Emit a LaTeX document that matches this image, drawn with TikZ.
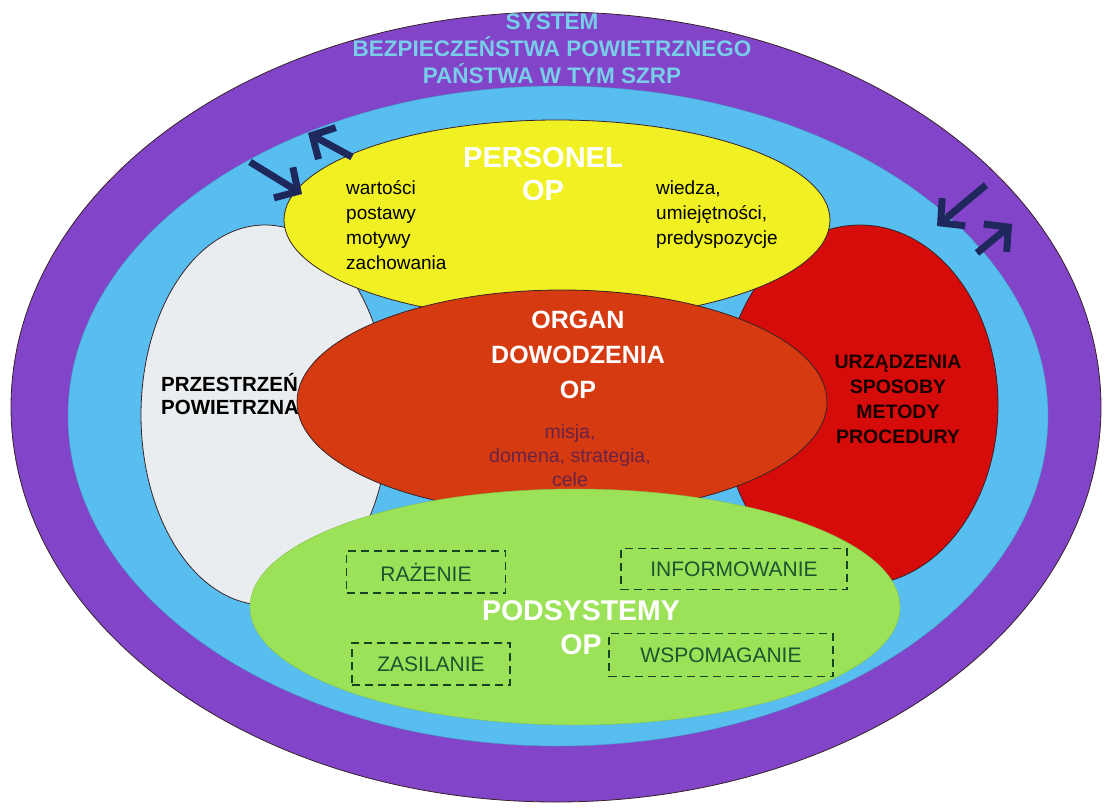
\documentclass[tikz,border=0pt]{standalone}
\usepackage{fontspec}
\setmainfont{Liberation Sans}
\usepackage{xcolor}
\usepackage{tikz}
\usetikzlibrary{arrows.meta,positioning}

\definecolor{ringviolet}{RGB}{130,68,200}
\definecolor{ringblue}{RGB}{88,190,240}
\definecolor{titlecyan}{RGB}{120,205,232}
\definecolor{persyellow}{RGB}{240,240,34}
\definecolor{spacegrey}{RGB}{234,237,239}
\definecolor{toolred}{RGB}{214,12,10}
\definecolor{organorange}{RGB}{214,58,16}
\definecolor{subgreen}{RGB}{156,226,88}
\definecolor{rimdark}{RGB}{55,35,40}
\definecolor{arrownavy}{RGB}{30,40,92}
\definecolor{misjatxt}{RGB}{105,35,70}
\definecolor{boxgreen}{RGB}{28,84,48}

\begin{document}
\begin{tikzpicture}[
  x=1pt, y=-1pt,
  rim/.style={draw=rimdark, line width=0.8pt},
  headtxt/.style={text=white, align=center, font=\bfseries\fontsize{28.5}{34}\selectfont},
  note/.style={align=left, inner sep=0pt, font=\fontsize{19}{25}\selectfont},
  boldtxt/.style={align=center, inner sep=0pt, font=\bfseries\fontsize{19.5}{25}\selectfont},
  subbox/.style={draw=boxgreen!80!black, dash pattern=on 8pt off 5pt, line width=1.2pt,
    text=boxgreen, font=\fontsize{21}{22}\selectfont, inner sep=0pt},
  flow/.style={-{Straight Barb[length=17pt,width=36pt]}, line width=7pt, arrownavy}
]
\useasboundingbox (0,0) rectangle (1109,808);

% rings
\filldraw[fill=ringviolet, rim] (556,407) ellipse [x radius=545pt, y radius=395pt];
\filldraw[fill=ringblue, draw=ringblue!80!black] (558,416) ellipse [x radius=490pt, y radius=330pt];
\node[align=center, text=titlecyan, font=\bfseries\fontsize{22.5}{27}\selectfont] (system)
  at (552,49) {SYSTEM\\BEZPIECZEŃSTWA POWIETRZNEGO\\PAŃSTWA W TYM SZRP};

% side ellipses
\filldraw[fill=spacegrey, rim] (265,415) ellipse [x radius=124pt, y radius=190pt];
\node[boldtxt, align=left, anchor=west, font=\bfseries\fontsize{20.5}{23}\selectfont] (space)
  at (161,394) {PRZESTRZEŃ\\POWIETRZNA};
\filldraw[fill=toolred, rim] (860,405) ellipse [x radius=138pt, y radius=180pt];
\node[boldtxt, text=black!90!red] (tools) at (898,399) {URZĄDZENIA\\SPOSOBY\\METODY\\PROCEDURY};

% personel
\filldraw[fill=persyellow, rim] (557,220) ellipse [x radius=273pt, y radius=100pt];
\node[headtxt, font=\bfseries\fontsize{29}{33}\selectfont] (personel) at (543,174) {PERSONEL\\OP};
\node[note, anchor=west] (attitudes) at (346,225) {wartości\\postawy\\motywy\\zachowania};
\node[note, anchor=west] (skills) at (656,215) {wiedza,\\umiejętności,\\predyspozycje};

% organ dowodzenia
\filldraw[fill=organorange, rim] (562,402) ellipse [x radius=265pt, y radius=112pt];
\node[headtxt, font=\bfseries\fontsize{25}{35}\selectfont] (organ) at (578,355) {ORGAN\\DOWODZENIA\\OP};
\node[align=center, text=misjatxt, font=\fontsize{19.5}{24}\selectfont] (misja) at (570,456)
  {misja,\\domena, strategia,\\cele};

% podsystemy
\filldraw[fill=subgreen, draw=subgreen!85!black] (575,607) ellipse [x radius=325pt, y radius=118pt];
\node[headtxt] (podsys) at (581,628) {PODSYSTEMY\\OP};
\node[subbox, minimum width=159pt, minimum height=42pt] (razenie) at (426,572) {RAŻENIE};
\node[subbox, minimum width=226pt, minimum height=41pt] (inform) at (734,569) {INFORMOWANIE};
\node[subbox, minimum width=158pt, minimum height=42pt] (zasil) at (431,664) {ZASILANIE};
\node[subbox, minimum width=224pt, minimum height=43pt] (wspom) at (721,655) {WSPOMAGANIE};

% exchange with the environment
\coordinate (inL) at (250,162);
\coordinate (inLtip) at (302,194);
\coordinate (outL) at (352,157);
\coordinate (outLtip) at (308,133);
\coordinate (inR) at (986,185);
\coordinate (inRtip) at (937,226);
\coordinate (outR) at (977,253);
\coordinate (outRtip) at (1012,224);
\draw[flow] (inL) -- (inLtip);
\draw[flow] (outL) -- (outLtip);
\draw[flow] (inR) -- (inRtip);
\draw[flow] (outR) -- (outRtip);
\end{tikzpicture}
\end{document}
